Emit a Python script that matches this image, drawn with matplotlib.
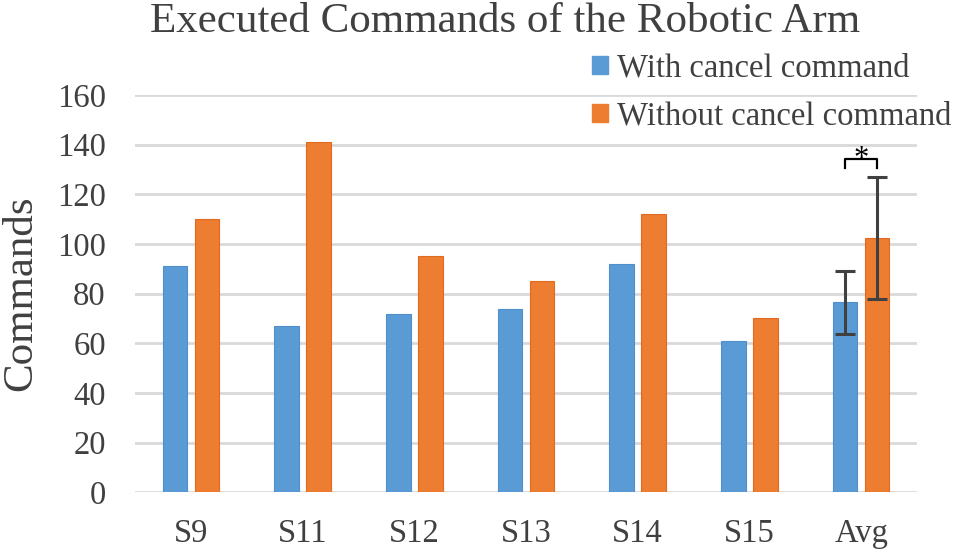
import numpy as np
import matplotlib
matplotlib.use("Agg")
import matplotlib.pyplot as plt
from matplotlib.patches import Patch

plt.rcParams['font.family'] = ['Liberation Serif', 'DejaVu Serif']

# data
subjects = ['S9', 'S11', 'S12', 'S13', 'S14', 'S15', 'Avg']
with_cancel = [91, 67, 72, 74, 92, 61, 76.5]
without_cancel = [110, 141, 95, 85, 112, 70, 102.4]
avg_err_with = 12.7
avg_err_without = 24.7
series_names = ['With cancel command', 'Without cancel command']

blue = '#5B9BD5'
orange = '#ED7D31'
txt = '#404040'
grid = '#D9D9D9'

fig = plt.figure(figsize=(9.57, 5.54), dpi=100)
ax = fig.add_axes([0.1411, 0.1114, 0.8171, 0.7171])

x = np.arange(len(subjects))
w = 0.22
off = 0.143
ax.bar(x - off, with_cancel, w, color=blue, edgecolor='#4F8FCB', linewidth=0.8, zorder=3)
ax.bar(x + off, without_cancel, w, color=orange, edgecolor='#E06A20', linewidth=0.8, zorder=3)

# error bars on the average group only
i = len(subjects) - 1
ax.errorbar(x[i] - off, with_cancel[i], yerr=avg_err_with, fmt='none',
            ecolor=txt, elinewidth=2.2, capsize=7, capthick=2.2, zorder=4)
ax.errorbar(x[i] + off, without_cancel[i], yerr=avg_err_without, fmt='none',
            ecolor=txt, elinewidth=2.2, capsize=7, capthick=2.2, zorder=4)

# significance bracket
bx0, bx1 = x[i] - off, x[i] + off
ax.plot([bx0, bx0, bx1, bx1], [130.5, 134.4, 134.4, 130.5], color='black', lw=1.6,
        zorder=5, clip_on=False)
ax.text((bx0 + bx1) / 2, 128.0, '*', ha='center', va='bottom', fontsize=22,
        color='black', zorder=5)

ax.set_xlim(-0.5, len(subjects) - 0.5)
ax.set_ylim(0, 160)
ax.set_yticks(np.arange(0, 161, 20))
ax.set_xticks(x)
ax.set_xticklabels(subjects)
ax.yaxis.grid(True, color=grid, linewidth=2, zorder=0)
ax.set_axisbelow(True)
for s in ax.spines.values():
    s.set_visible(False)
ax.tick_params(axis='both', length=0, labelsize=23.5, colors=txt)
ax.tick_params(axis='y', pad=21)
ax.tick_params(axis='x', pad=19)
ax.set_ylabel('Commands', fontsize=31, color=txt, labelpad=12)

fig.text(505 / 957, 1 - 22 / 554, 'Executed Commands of the Robotic Arm',
         ha='center', va='center', fontsize=31, color=txt)

handles = [Patch(facecolor=blue, edgecolor=blue), Patch(facecolor=orange, edgecolor=orange)]
fig.legend(handles, series_names, loc='upper left', bbox_to_anchor=(592 / 957, 1 - 53 / 554),
           frameon=False, fontsize=23.5, handlelength=0.48, handleheight=0.48,
           handletextpad=0.3, labelspacing=0.55, borderaxespad=0, borderpad=0,
           labelcolor=txt)

fig.savefig('out.png', dpi=100)
